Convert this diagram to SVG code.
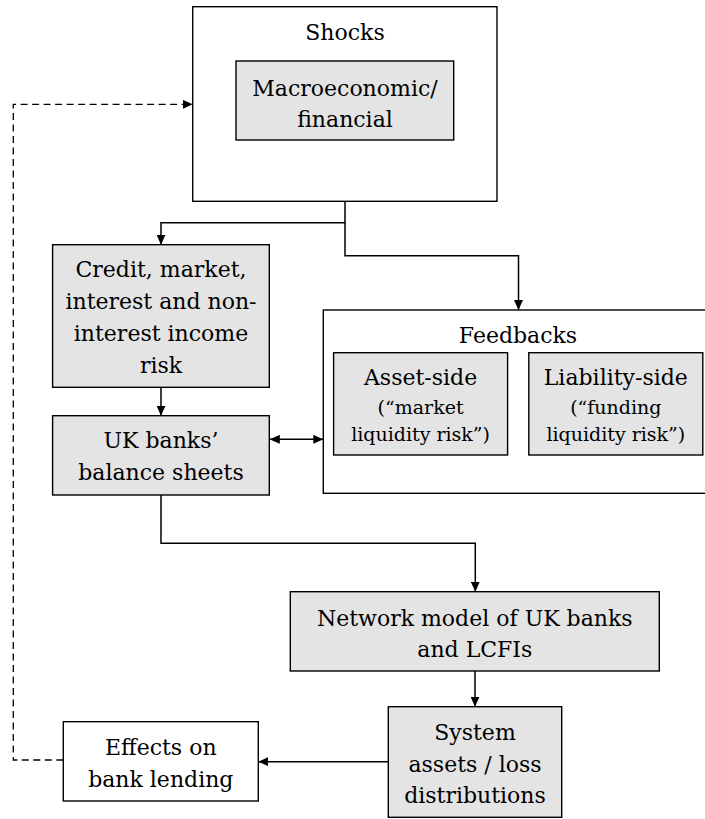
<svg xmlns="http://www.w3.org/2000/svg" width="705" height="819" viewBox="0 0 705 819">
<defs>
<marker id="ah" viewBox="0 0 10 9" markerWidth="10" markerHeight="9" refX="10" refY="4.5" orient="auto-start-reverse" markerUnits="userSpaceOnUse">
<path d="M0,0 L10,4.5 L0,9 z" fill="#000"/>
</marker>
</defs>
<style>
.box{fill:#fff;stroke:#000;stroke-width:1.4}
.gbox{fill:#e4e4e4;stroke:#000;stroke-width:1.4}
text{font-family:'DejaVu Serif',serif;fill:#000;text-anchor:middle}
.t{font-size:22px}
.s{font-size:19px}
.c{fill:none;stroke:#000;stroke-width:1.5}
.d{fill:none;stroke:#000;stroke-width:1.3;stroke-dasharray:7 4.5}
</style>
<rect width="705" height="819" fill="#fff"/>
<g id="shocks">
<rect class="box" x="192.7" y="6.7" width="304.3" height="194.6"/>
<text class="t" x="345" y="40">Shocks</text>
</g>
<g id="macro">
<rect class="gbox" x="236" y="61" width="217.7" height="79"/>
<text class="t" x="345" y="96">Macroeconomic/</text>
<text class="t" x="345" y="127.3">financial</text>
</g>
<g id="credit">
<rect class="gbox" x="52.6" y="244.7" width="216.7" height="142.6"/>
<text class="t" x="161" y="277">Credit, market,</text>
<text class="t" x="161" y="309">interest and non-</text>
<text class="t" x="161" y="341">interest income</text>
<text class="t" x="161" y="372.7">risk</text>
</g>
<g id="ukbanks">
<rect class="gbox" x="52.6" y="415.7" width="216.7" height="79.3"/>
<text class="t" x="161" y="448.3">UK banks’</text>
<text class="t" x="161" y="480">balance sheets</text>
</g>
<g id="feedbacks">
<rect class="box" x="323.3" y="310" width="420" height="183.3"/>
<text class="t" x="518" y="342.7">Feedbacks</text>
</g>
<g id="asset">
<rect class="gbox" x="333.6" y="352.7" width="174" height="102.3"/>
<text class="t" x="420.6" y="385.3">Asset-side</text>
<text class="s" x="420.6" y="414">(“market</text>
<text class="s" x="420.6" y="441.3">liquidity risk”)</text>
</g>
<g id="liability">
<rect class="gbox" x="528.8" y="352.7" width="174" height="102.3"/>
<text class="t" x="615.8" y="385.3">Liability-side</text>
<text class="s" x="615.8" y="414">(“funding</text>
<text class="s" x="615.8" y="441.3">liquidity risk”)</text>
</g>
<g id="network">
<rect class="gbox" x="290.3" y="591.7" width="369" height="79.3"/>
<text class="t" x="474.8" y="626">Network model of UK banks</text>
<text class="t" x="474.8" y="656.7">and LCFIs</text>
</g>
<g id="system">
<rect class="gbox" x="388.3" y="706.7" width="173.4" height="110.6"/>
<text class="t" x="475" y="740">System</text>
<text class="t" x="475" y="771.7">assets / loss</text>
<text class="t" x="475" y="803.3">distributions</text>
</g>
<g id="effects">
<rect class="box" x="63.3" y="721.7" width="195" height="79.3"/>
<text class="t" x="160.8" y="755">Effects on</text>
<text class="t" x="160.8" y="786.7">bank lending</text>
</g>
<g id="connectors">
<path class="c" d="M345,201.3 V222.7 H161 V244.7" marker-end="url(#ah)"/>
<path class="c" d="M345,222.7 V255.7 H518.5 V310" marker-end="url(#ah)"/>
<path class="c" d="M161,387.3 V415.7" marker-end="url(#ah)"/>
<path class="c" d="M269.8,439.3 H323.3" marker-start="url(#ah)" marker-end="url(#ah)"/>
<path class="c" d="M161,495 V543.3 H475.3 V591.7" marker-end="url(#ah)"/>
<path class="c" d="M475,671 V706.7" marker-end="url(#ah)"/>
<path class="c" d="M388.3,761.7 H258.3" marker-end="url(#ah)"/>
<path class="d" d="M63.3,760 H13.3 V104.3 H192.7" marker-end="url(#ah)"/>
</g>
</svg>
